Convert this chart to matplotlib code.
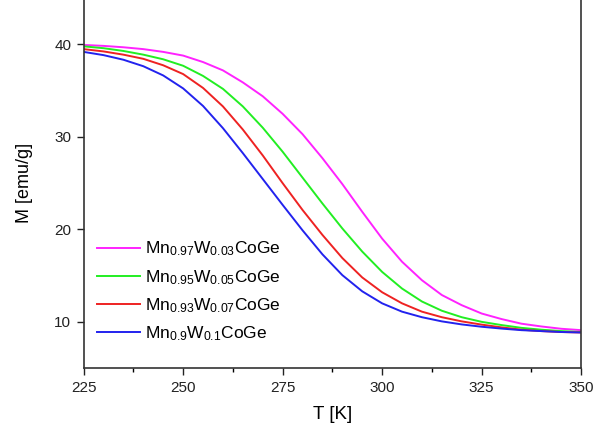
import matplotlib
matplotlib.use('agg')
import matplotlib.pyplot as plt
from matplotlib.ticker import MultipleLocator

plt.rcParams['font.family'] = ['Liberation Sans', 'DejaVu Sans']
plt.rcParams['mathtext.default'] = 'regular'

T = [225, 230, 235, 240, 245, 250, 255, 260, 265, 270, 275, 280, 285,
     290, 295, 300, 305, 310, 315, 320, 325, 330, 335, 340, 345, 350]

M_w003 = [39.95, 39.85, 39.7, 39.5, 39.2, 38.8, 38.1, 37.2, 35.9, 34.4, 32.5, 30.3, 27.7,
          24.9, 21.9, 19.0, 16.5, 14.5, 12.9, 11.8, 10.9, 10.3, 9.8, 9.5, 9.25, 9.1]
M_w005 = [39.8, 39.6, 39.3, 38.9, 38.4, 37.7, 36.6, 35.2, 33.3, 31.0, 28.4, 25.6, 22.8,
          20.1, 17.6, 15.4, 13.6, 12.2, 11.2, 10.5, 10.0, 9.65, 9.35, 9.15, 9.0, 8.9]
M_w007 = [39.5, 39.25, 38.9, 38.45, 37.75, 36.8, 35.3, 33.3, 30.8, 28.0, 25.0, 22.1, 19.4,
          16.9, 14.8, 13.2, 12.0, 11.1, 10.5, 10.05, 9.7, 9.4, 9.15, 9.0, 8.9, 8.85]
M_w010 = [39.2, 38.85, 38.35, 37.65, 36.65, 35.25, 33.35, 30.95, 28.25, 25.45, 22.65, 19.9, 17.3,
          15.05, 13.3, 12.0, 11.1, 10.5, 10.05, 9.72, 9.47, 9.27, 9.1, 9.0, 8.9, 8.85]

labels = [r'Mn$_{0.97}$W$_{0.03}$CoGe', r'Mn$_{0.95}$W$_{0.05}$CoGe',
          r'Mn$_{0.93}$W$_{0.07}$CoGe', r'Mn$_{0.9}$W$_{0.1}$CoGe']
series = [M_w003, M_w005, M_w007, M_w010]
colors = ['#ff22ff', '#22ee22', '#ee2222', '#2222ee']

fig = plt.figure(figsize=(6.06, 4.32), dpi=100)
ax = fig.add_axes([0.138, 0.148, 0.821, 0.856])

for m, c, lab in zip(series, colors, labels):
    ax.plot(T, m, color=c, linewidth=1.4, label=lab)

ax.set_xlim(225, 350)
ax.set_ylim(5, 45)
ax.xaxis.set_major_locator(MultipleLocator(25))
ax.xaxis.set_minor_locator(MultipleLocator(12.5))
ax.yaxis.set_major_locator(MultipleLocator(10))
ax.tick_params(axis='both', which='major', direction='out', length=5, width=1,
               labelsize=11, colors='#222222')
ax.tick_params(axis='x', which='major', pad=4)
ax.tick_params(axis='y', which='major', pad=4)
ax.tick_params(axis='x', which='minor', direction='out', length=3, width=1)
for s in ax.spines.values():
    s.set_linewidth(1.2)
    s.set_color('#333333')

ax.set_xlabel('T [K]', fontsize=13.5, labelpad=8)
ax.set_ylabel('M [emu/g]', fontsize=13, labelpad=15)

ax.legend(loc='lower left', bbox_to_anchor=(-0.005, 0.025), frameon=False, fontsize=12.5,
          handlelength=2.5, handletextpad=0.25, labelspacing=0.55)

fig.savefig('out.png', dpi=100)
